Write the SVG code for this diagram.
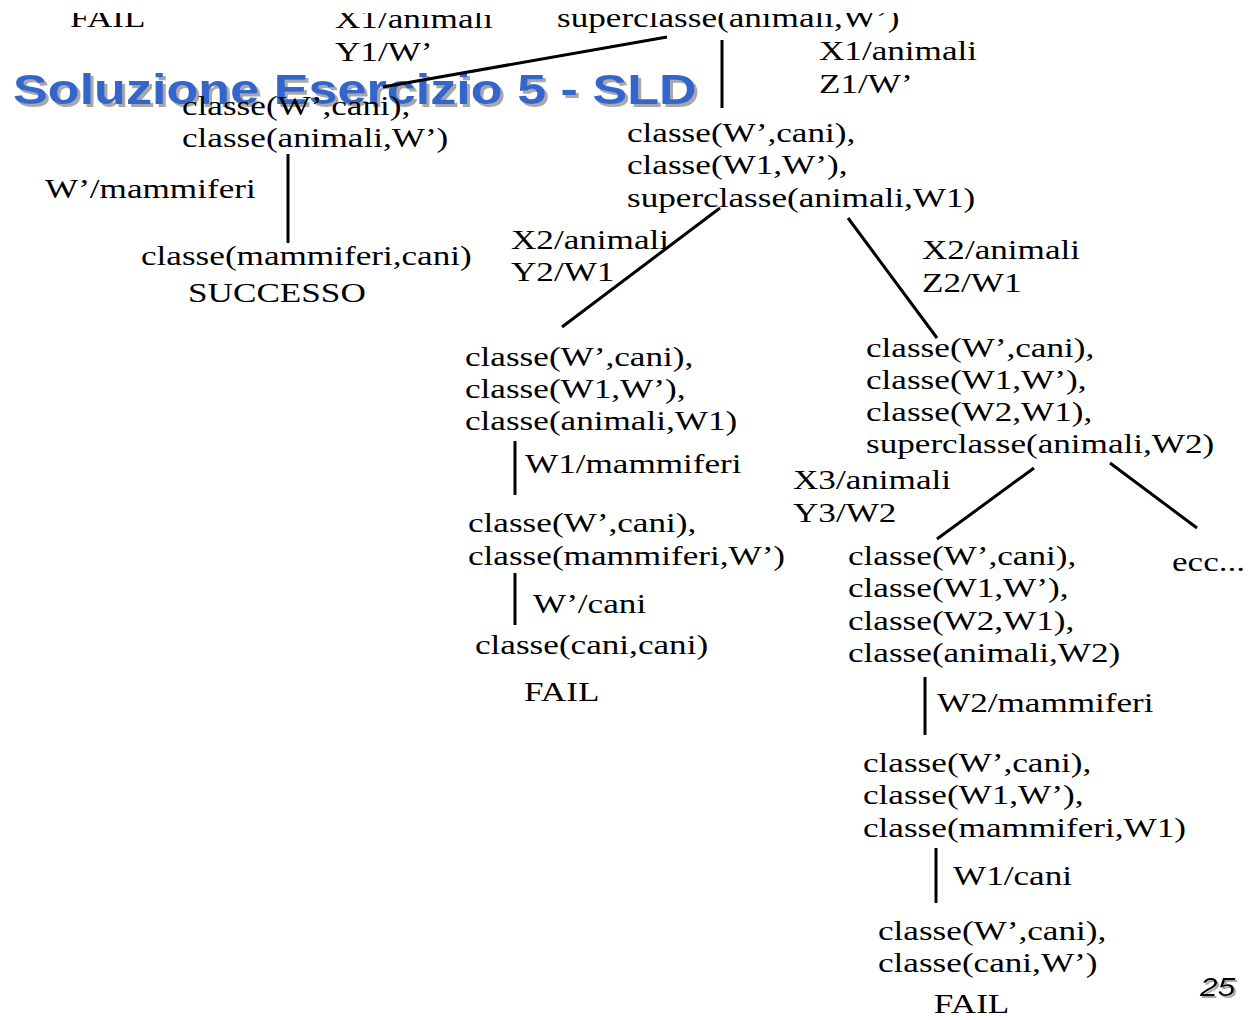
<svg xmlns="http://www.w3.org/2000/svg" width="1253" height="1020" viewBox="0 0 1253 1020">
<defs>
<filter id="sh" x="-5%" y="-20%" width="110%" height="150%">
<feDropShadow dx="3" dy="3" stdDeviation="0.4" flood-color="#a8a8a8" flood-opacity="1"/>
</filter>
<filter id="sh2" x="-20%" y="-20%" width="150%" height="150%">
<feDropShadow dx="2" dy="2" stdDeviation="0.4" flood-color="#a8a8a8" flood-opacity="1"/>
</filter>
</defs>
<style>
.t{font-family:"Liberation Serif","Times New Roman",serif;font-size:28px;fill:#000}
.ttl{font-family:"Liberation Sans",Arial,sans-serif;font-size:43px;font-weight:bold;fill:#3366cc}
.pg{font-family:"Liberation Sans",Arial,sans-serif;font-size:26px;font-style:italic;fill:#000}
.c{stroke:#000;stroke-width:3;fill:none;stroke-linecap:butt}
</style>
<rect width="1253" height="1020" fill="#fff"/>
<g id="title" filter="url(#sh)">
<text class="ttl" transform="translate(13,104) scale(1.213,1)">Soluzione Esercizio 5 - SLD</text>
</g>
<g id="connectors">
<line class="c" x1="667" y1="37" x2="383" y2="87"/>
<line class="c" x1="288" y1="154" x2="288" y2="243"/>
<line class="c" x1="722" y1="40" x2="722" y2="108"/>
<line class="c" x1="720" y1="208" x2="562" y2="327"/>
<line class="c" x1="848" y1="218" x2="937" y2="338"/>
<line class="c" x1="515" y1="441" x2="515" y2="495"/>
<line class="c" x1="515" y1="573" x2="515" y2="625"/>
<line class="c" x1="1034" y1="468" x2="937" y2="539"/>
<line class="c" x1="1110" y1="463" x2="1197" y2="528"/>
<line class="c" x1="925" y1="677" x2="925" y2="735"/>
<line class="c" x1="936" y1="848" x2="936" y2="903"/>
</g>
<g id="labels">
<text class="t" transform="translate(335,28) scale(1.255,1)"><tspan x="0" y="0">X1/animali</tspan><tspan x="0" y="33">Y1/W’</tspan></text>
<text class="t" transform="translate(819,60) scale(1.255,1)"><tspan x="0" y="0">X1/animali</tspan><tspan x="0" y="33">Z1/W’</tspan></text>
<text class="t" transform="translate(45,198) scale(1.255,1)">W’/mammiferi</text>
<text class="t" transform="translate(511,249) scale(1.255,1)"><tspan x="0" y="0">X2/animali</tspan><tspan x="0" y="32">Y2/W1</tspan></text>
<text class="t" transform="translate(922,259) scale(1.255,1)"><tspan x="0" y="0">X2/animali</tspan><tspan x="0" y="33">Z2/W1</tspan></text>
<text class="t" transform="translate(525,473) scale(1.255,1)">W1/mammiferi</text>
<text class="t" transform="translate(533,613) scale(1.255,1)">W’/cani</text>
<text class="t" transform="translate(793,489) scale(1.255,1)"><tspan x="0" y="0">X3/animali</tspan><tspan x="0" y="33">Y3/W2</tspan></text>
<text class="t" transform="translate(937,712) scale(1.255,1)">W2/mammiferi</text>
<text class="t" transform="translate(953,885) scale(1.255,1)">W1/cani</text>
</g>
<g id="n-fail0"><text class="t" transform="translate(70,27) scale(1.255,1)">FAIL</text></g>
<g id="n-root"><text class="t" transform="translate(557,27) scale(1.255,1)">superclasse(animali,W’)</text></g>
<g id="n-left1"><text class="t" transform="translate(182,115) scale(1.255,1)"><tspan x="0" y="0">classe(W’,cani),</tspan><tspan x="0" y="32.5">classe(animali,W’)</tspan></text></g>
<g id="n-success"><text class="t" transform="translate(141,265) scale(1.255,1)"><tspan x="0" y="0">classe(mammiferi,cani)</tspan><tspan x="37.5" y="37">SUCCESSO</tspan></text></g>
<g id="n-right1"><text class="t" transform="translate(627,142) scale(1.255,1)"><tspan x="0" y="0">classe(W’,cani),</tspan><tspan x="0" y="32.5">classe(W1,W’),</tspan><tspan x="0" y="65">superclasse(animali,W1)</tspan></text></g>
<g id="n-left2"><text class="t" transform="translate(465,366) scale(1.255,1)"><tspan x="0" y="0">classe(W’,cani),</tspan><tspan x="0" y="32">classe(W1,W’),</tspan><tspan x="0" y="64.5">classe(animali,W1)</tspan></text></g>
<g id="n-left3"><text class="t" transform="translate(468,532) scale(1.255,1)"><tspan x="0" y="0">classe(W’,cani),</tspan><tspan x="0" y="33">classe(mammiferi,W’)</tspan></text></g>
<g id="n-fail1"><text class="t" transform="translate(475,654) scale(1.255,1)"><tspan x="0" y="0">classe(cani,cani)</tspan><tspan x="39" y="47">FAIL</tspan></text></g>
<g id="n-right2"><text class="t" transform="translate(866,357) scale(1.255,1)"><tspan x="0" y="0">classe(W’,cani),</tspan><tspan x="0" y="32">classe(W1,W’),</tspan><tspan x="0" y="64.5">classe(W2,W1),</tspan><tspan x="0" y="96.5">superclasse(animali,W2)</tspan></text></g>
<g id="n-ecc"><text class="t" transform="translate(1172,571) scale(1.255,1)">ecc...</text></g>
<g id="n-right3"><text class="t" transform="translate(848,565) scale(1.255,1)"><tspan x="0" y="0">classe(W’,cani),</tspan><tspan x="0" y="32.5">classe(W1,W’),</tspan><tspan x="0" y="65">classe(W2,W1),</tspan><tspan x="0" y="97.5">classe(animali,W2)</tspan></text></g>
<g id="n-right4"><text class="t" transform="translate(863,772) scale(1.255,1)"><tspan x="0" y="0">classe(W’,cani),</tspan><tspan x="0" y="32.5">classe(W1,W’),</tspan><tspan x="0" y="65">classe(mammiferi,W1)</tspan></text></g>
<g id="n-fail2"><text class="t" transform="translate(878,940) scale(1.255,1)"><tspan x="0" y="0">classe(W’,cani),</tspan><tspan x="0" y="32.5">classe(cani,W’)</tspan><tspan x="44.5" y="73">FAIL</tspan></text></g>
<g id="page" filter="url(#sh2)"><text class="pg" transform="translate(1200,996) scale(1.22,1)">25</text></g>
<rect id="top-mask" x="0" y="0" width="1253" height="13" fill="#fff"/>
</svg>
